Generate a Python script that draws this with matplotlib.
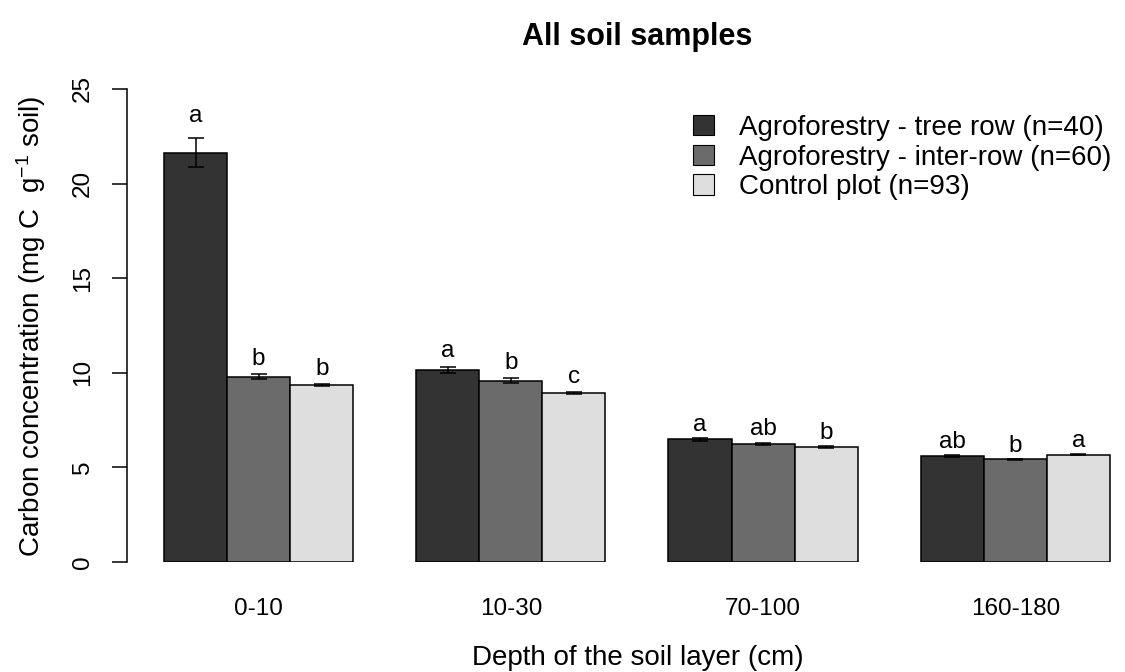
import numpy as np
import matplotlib
matplotlib.use('Agg')
import matplotlib.pyplot as plt
from matplotlib.patches import Patch

plt.rcParams['font.family'] = ['Liberation Sans', 'DejaVu Sans']
plt.rcParams['mathtext.fontset'] = 'custom'
plt.rcParams['mathtext.rm'] = 'Liberation Sans'
plt.rcParams['mathtext.it'] = 'Liberation Sans:italic'
plt.rcParams['mathtext.bf'] = 'Liberation Sans:bold'

# data
depths = ['0-10', '10-30', '70-100', '160-180']
groups = ['Agroforestry - tree row (n=40)',
          'Agroforestry - inter-row (n=60)',
          'Control plot (n=93)']
tree_row = [21.64, 10.15, 6.48, 5.61]
inter_row = [9.79, 9.57, 6.26, 5.42]
control = [9.35, 8.94, 6.07, 5.68]
tree_row_se = [0.75, 0.17, 0.07, 0.05]
inter_row_se = [0.13, 0.13, 0.05, 0.05]
control_se = [0.04, 0.04, 0.05, 0.04]
tree_row_letters = ['a', 'a', 'a', 'ab']
inter_row_letters = ['b', 'b', 'ab', 'b']
control_letters = ['b', 'c', 'b', 'a']

colors = ['#333333', '#6b6b6b', '#dedede']

fig = plt.figure(figsize=(11.25, 6.72), dpi=100)
ax = fig.add_axes([127 / 1125, 110 / 672, 998 / 1125, 26.5 * 18.92 / 672])

series = [(tree_row, tree_row_se, tree_row_letters),
          (inter_row, inter_row_se, inter_row_letters),
          (control, control_se, control_letters)]

# R barplot layout: bar width 1, gap of 1 before every group
starts = np.arange(len(depths)) * 4 + 1
for i, (vals, se, letters) in enumerate(series):
    x = starts + i + 0.5
    ax.bar(x, vals, width=1.0, color=colors[i], edgecolor='black', linewidth=1.1)
    ax.errorbar(x, vals, yerr=se, fmt='none', ecolor='black', elinewidth=1.1,
                capsize=6, capthick=1.1)
    for xi, v, s, lab in zip(x, vals, se, letters):
        top = v + s
        ax.text(xi, top + 0.2 + 0.03 * top, lab, ha='center', va='baseline',
                fontsize=17.5)

ax.set_xlim(0.412, 16.24)
ax.set_ylim(0, 26.5)

for side in ['top', 'right', 'bottom']:
    ax.spines[side].set_visible(False)
ax.spines['left'].set_bounds(0, 25)
ax.spines['left'].set_linewidth(1.1)

ax.set_yticks([0, 5, 10, 15, 20, 25])
ax.set_yticklabels(['0', '5', '10', '15', '20', '25'], rotation=90, va='center')
ax.tick_params(axis='y', length=10.8, width=1.1, pad=13, labelsize=17.5)
ax.set_xticks(starts + 1.5)
ax.set_xticklabels(depths)
ax.tick_params(axis='x', length=0, pad=26, labelsize=17.5)

handles = [Patch(facecolor=c, edgecolor='black', linewidth=0.8) for c in colors]
ax.legend(handles, groups, loc='upper left', bbox_to_anchor=(693 / 1125, 1 - 115 / 672),
          bbox_transform=fig.transFigure, frameon=False, fontsize=20,
          borderaxespad=0, borderpad=0, handlelength=0.75, handleheight=0.75,
          handletextpad=0.9, labelspacing=0.13)

fig.text(637 / 1125, 1 - 45 / 672, 'All soil samples', ha='center', va='baseline',
         fontsize=22, fontweight='bold')
fig.text(637.5 / 1125, 7 / 672, 'Depth of the soil layer (cm)', ha='center',
         va='baseline', fontsize=20)
fig.text(31 / 1125, 1 - 326 / 672, 'Carbon concentration (mg C  g$^{-1}$ soil)',
         ha='center', va='center', rotation=90, fontsize=20)

fig.savefig('out.png', dpi=100)
